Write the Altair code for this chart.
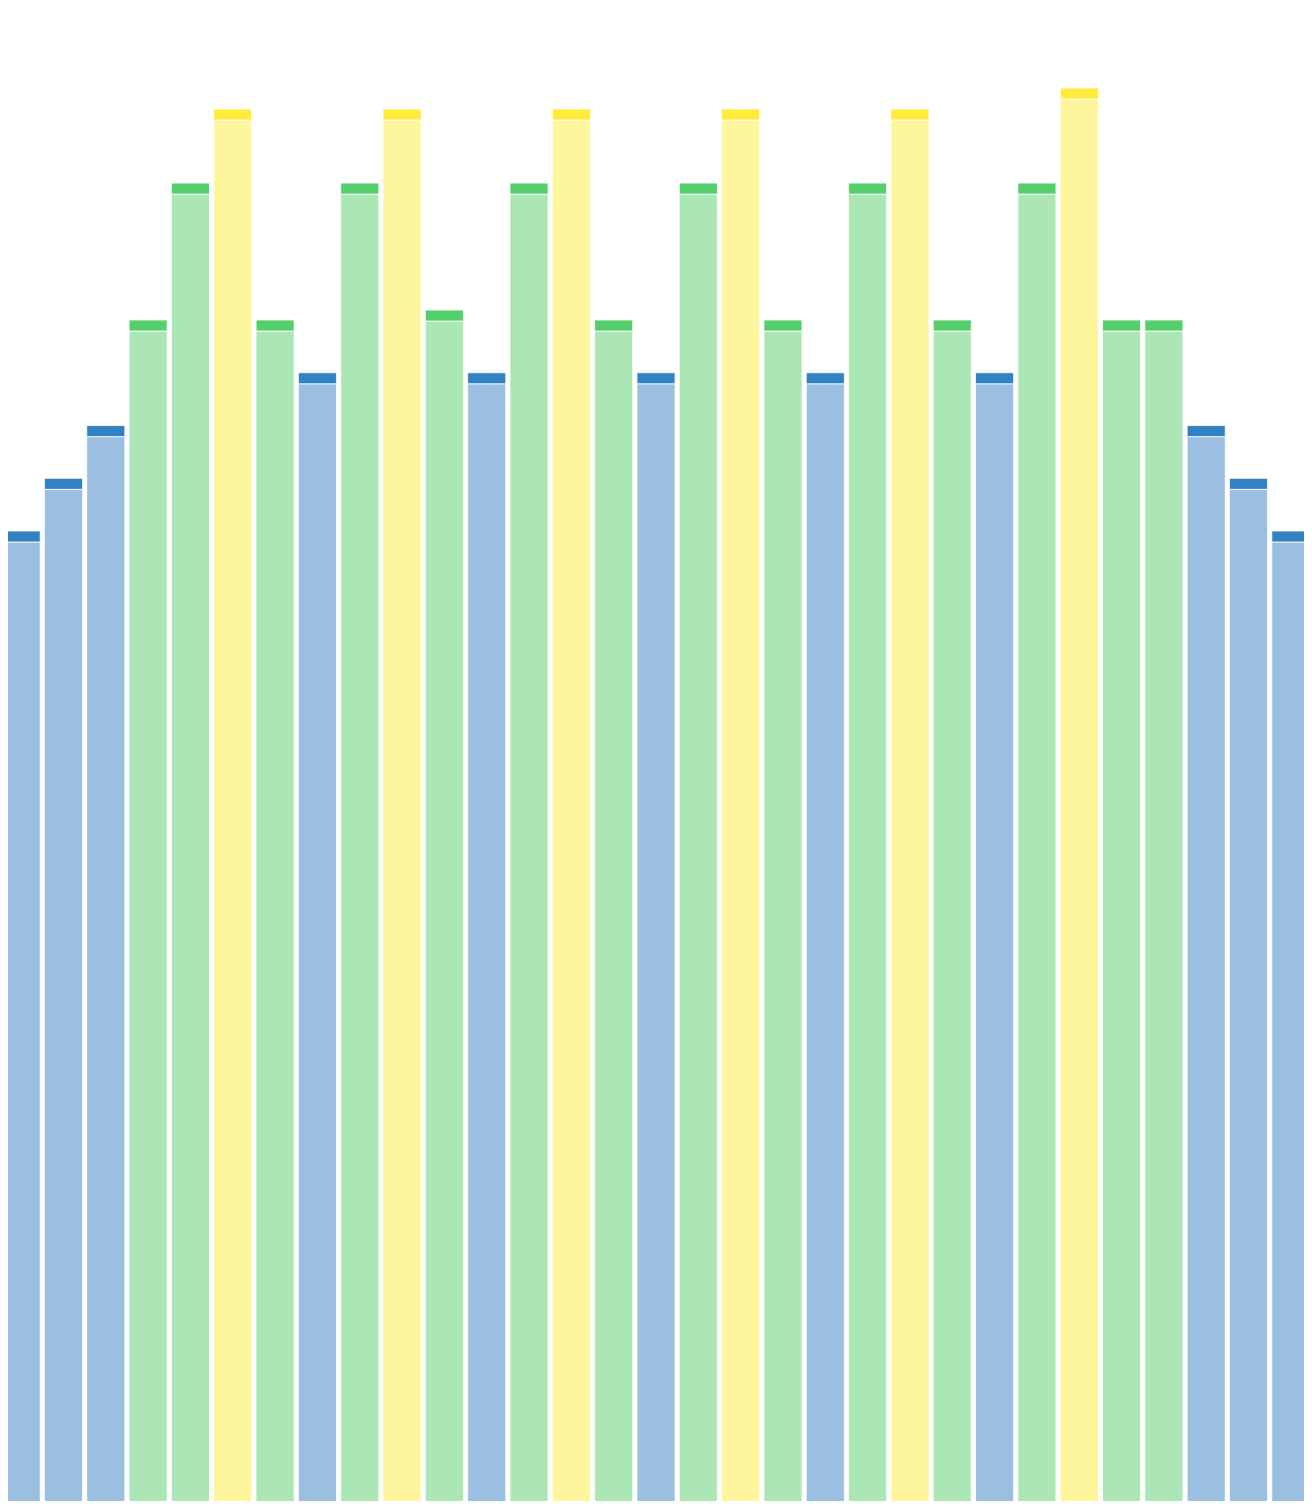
import altair as alt
import pandas as pd

days = list(range(1, 32))
levels = ["low", "low", "low", "mid", "mid", "high", "mid", "low", "mid", "high",
          "mid", "low", "mid", "high", "mid", "low", "mid", "high", "mid", "low",
          "mid", "high", "mid", "low", "mid", "high", "mid", "mid", "low", "low", "low"]
body = [64.06, 67.55, 71.05, 78.05, 87.13, 92.04, 78.05, 74.55, 87.13, 92.04,
        78.71, 74.55, 87.13, 92.04, 78.05, 74.55, 87.13, 92.04, 78.05, 74.55,
        87.13, 92.04, 78.05, 74.55, 87.13, 93.43, 78.05, 78.05, 71.05, 67.55, 64.06]
cap = [0.73] * 31

level_names = ["low", "mid", "high"]
body_colors = ["#9bbfe0", "#abe7b4", "#fdf69d"]
cap_colors = ["#3182c2", "#55cf6b", "#ffeb3b"]

df = pd.DataFrame({"day": days, "level": levels, "body": body, "cap": cap})
df["top"] = df["body"] + df["cap"]

x = alt.X("day:O", axis=None,
          scale=alt.Scale(paddingInner=0.1, paddingOuter=0.05))
yscale = alt.Scale(domain=[0, 100], nice=False, zero=True)

base = alt.Chart(df)

bodies = base.mark_bar(stroke="white", strokeWidth=1, strokeOpacity=0.8).encode(
    x=x,
    y=alt.Y("body:Q", axis=None, scale=yscale),
    color=alt.Color("level:N", legend=None,
                    scale=alt.Scale(domain=level_names, range=body_colors)),
)

caps = base.mark_bar(stroke="white", strokeWidth=1, strokeOpacity=0.8).encode(
    x=x,
    y=alt.Y("top:Q", axis=None, scale=yscale),
    y2="body:Q",
    fill=alt.Fill("level:N", legend=None,
                  scale=alt.Scale(domain=level_names, range=cap_colors)),
)

chart = alt.layer(bodies, caps).resolve_scale(color="independent").properties(
    width=1312,
    height=1508,
    padding={"left": -8, "top": -8, "right": -8, "bottom": -8},
).configure_view(stroke=None)

chart.save("out.html", embed_options={"renderer": "svg", "actions": False})
